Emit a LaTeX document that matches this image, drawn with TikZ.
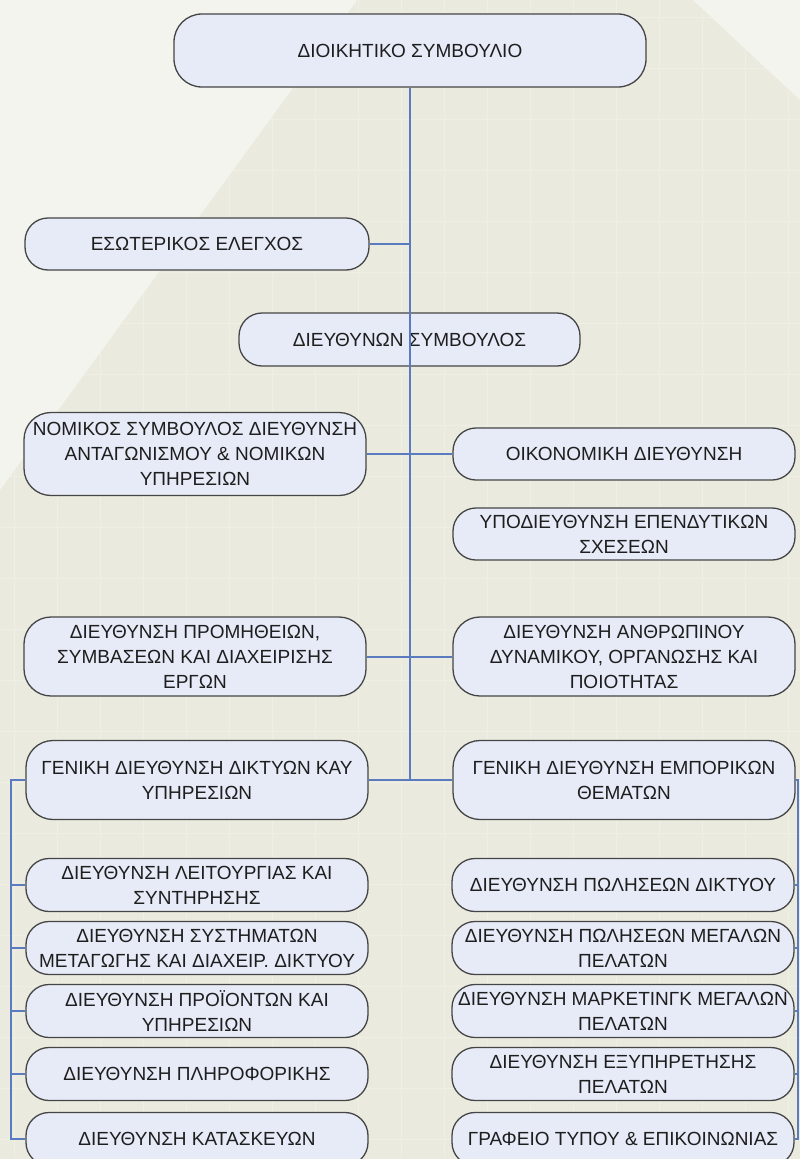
\documentclass[tikz,border=0pt]{standalone}
\usepackage{fontspec}
\setmainfont{Liberation Sans}
\definecolor{bgdark}{HTML}{EAEADF}
\definecolor{bglight}{HTML}{F3F4ED}
\definecolor{gridc}{HTML}{EFEFE6}
\definecolor{boxfill}{HTML}{E6EBF7}
\definecolor{boxline}{HTML}{454545}
\definecolor{connc}{HTML}{5B7BC0}
\definecolor{txt}{HTML}{1E1E1E}
\begin{document}
\begin{tikzpicture}[x=1pt,y=-1pt,
  box/.style={draw=boxline, fill=boxfill, line width=1.3pt, rounded corners=23pt,
    minimum width=342pt, minimum height=53pt, inner sep=0pt, align=center,
    text=txt, font=\fontsize{19}{25}\selectfont},
  tallbox/.style={box, minimum height=79pt, rounded corners=27pt},
  conn/.style={draw=connc, line width=2pt}]
\useasboundingbox (0,0) rectangle (800,1159);
% background
\fill[bgdark] (0,0) rectangle (800,1159);
\fill[bglight] (0,0) -- (357,0) -- (0,490) -- cycle;
\fill[bglight] (693,0) -- (800,0) -- (800,100) -- cycle;
\begin{scope}
  \clip (357,0) -- (693,0) -- (800,100) -- (800,1159) -- (0,1159) -- (0,490) -- cycle;
  \foreach \gx in {14,57,...,800} \draw[gridc, line width=1pt] (\gx,0) -- (\gx,1159);
  \foreach \gy in {17,68,...,1159} \draw[gridc, line width=1pt] (0,\gy) -- (800,\gy);
\end{scope}
% nodes
\node[box, minimum width=472pt, minimum height=73pt, rounded corners=28pt] (board) at (410,50.5) {ΔΙΟΙΚΗΤΙΚΟ ΣΥΜΒΟΥΛΙΟ};
\node[box, minimum width=344pt, minimum height=52pt] (internal) at (197,244) {ΕΣΩΤΕΡΙΚΟΣ ΕΛΕΓΧΟΣ};
\node[box, minimum width=341pt] (ceo) at (409.5,339.5) {ΔΙΕΥΘΥΝΩΝ ΣΥΜΒΟΥΛΟΣ};
\node[tallbox, minimum height=83pt] (legal) at (195,454) {ΝΟΜΙΚΟΣ ΣΥΜΒΟΥΛΟΣ ΔΙΕΥΘΥΝΣΗ\\ΑΝΤΑΓΩΝΙΣΜΟΥ \& ΝΟΜΙΚΩΝ\\ΥΠΗΡΕΣΙΩΝ};
\node[box, minimum height=52pt] (finance) at (624,454) {ΟΙΚΟΝΟΜΙΚΗ ΔΙΕΥΘΥΝΣΗ};
\node[box, minimum height=52pt] (invest) at (624,534) {ΥΠΟΔΙΕΥΘΥΝΣΗ ΕΠΕΝΔΥΤΙΚΩΝ\\ΣΧΕΣΕΩΝ};
\node[tallbox] (procure) at (195,656.5) {ΔΙΕΥΘΥΝΣΗ ΠΡΟΜΗΘΕΙΩΝ,\\ΣΥΜΒΑΣΕΩΝ ΚΑΙ ΔΙΑΧΕΙΡΙΣΗΣ\\ΕΡΓΩΝ};
\node[tallbox] (hr) at (624,656.5) {ΔΙΕΥΘΥΝΣΗ ΑΝΘΡΩΠΙΝΟΥ\\ΔΥΝΑΜΙΚΟΥ, ΟΡΓΑΝΩΣΗΣ ΚΑΙ\\ΠΟΙΟΤΗΤΑΣ};
\node[tallbox] (gnet) at (197,780) {ΓΕΝΙΚΗ ΔΙΕΥΘΥΝΣΗ ΔΙΚΤΥΩΝ ΚΑΥ\\ΥΠΗΡΕΣΙΩΝ};
\node[tallbox] (gcom) at (624,780) {ΓΕΝΙΚΗ ΔΙΕΥΘΥΝΣΗ ΕΜΠΟΡΙΚΩΝ\\ΘΕΜΑΤΩΝ};
% left sub units
\node[box] (l1) at (197,885) {ΔΙΕΥΘΥΝΣΗ ΛΕΙΤΟΥΡΓΙΑΣ ΚΑΙ\\ΣΥΝΤΗΡΗΣΗΣ};
\node[box] (l2) at (197,948) {ΔΙΕΥΘΥΝΣΗ ΣΥΣΤΗΜΑΤΩΝ\\ΜΕΤΑΓΩΓΗΣ ΚΑΙ ΔΙΑΧΕΙΡ. ΔΙΚΤΥΟΥ};
\node[box] (l3) at (197,1011) {ΔΙΕΥΘΥΝΣΗ ΠΡΟΪΟΝΤΩΝ ΚΑΙ\\ΥΠΗΡΕΣΙΩΝ};
\node[box] (l4) at (197,1074) {ΔΙΕΥΘΥΝΣΗ ΠΛΗΡΟΦΟΡΙΚΗΣ};
\node[box] (l5) at (197,1139) {ΔΙΕΥΘΥΝΣΗ ΚΑΤΑΣΚΕΥΩΝ};
% right sub units
\node[box] (r1) at (623,885) {ΔΙΕΥΘΥΝΣΗ ΠΩΛΗΣΕΩΝ ΔΙΚΤΥΟΥ};
\node[box] (r2) at (623,948) {ΔΙΕΥΘΥΝΣΗ ΠΩΛΗΣΕΩΝ ΜΕΓΑΛΩΝ\\ΠΕΛΑΤΩΝ};
\node[box] (r3) at (623,1011) {ΔΙΕΥΘΥΝΣΗ ΜΑΡΚΕΤΙΝΓΚ ΜΕΓΑΛΩΝ\\ΠΕΛΑΤΩΝ};
\node[box] (r4) at (623,1074) {ΔΙΕΥΘΥΝΣΗ ΕΞΥΠΗΡΕΤΗΣΗΣ\\ΠΕΛΑΤΩΝ};
\node[box] (r5) at (623,1139) {ΓΡΑΦΕΙΟ ΤΥΠΟΥ \& ΕΠΙΚΟΙΝΩΝΙΑΣ};
% spine coordinates
\coordinate (L) at (11,0);
\coordinate (R) at (798,0);
% connectors
\draw[conn] (board.south) -- (board.south |- gnet.east);
\draw[conn] (internal.east) -- (internal.east -| board.south);
\draw[conn] (legal.east) -- (finance.west);
\draw[conn] (procure.east) -- (hr.west);
\draw[conn] (gnet.east) -- (gcom.west);
\draw[conn] (gnet.west) -- (gnet.west -| L) -- (L |- l5.west) -- (l5.west);
\foreach \n in {l1,l2,l3,l4} \draw[conn] (\n.west) -- (\n.west -| L);
\draw[conn] (gcom.east) -- (gcom.east -| R) -- (R |- r5.east) -- (r5.east);
\foreach \n in {r1,r2,r3,r4} \draw[conn] (\n.east) -- (\n.east -| R);
\end{tikzpicture}
\end{document}
